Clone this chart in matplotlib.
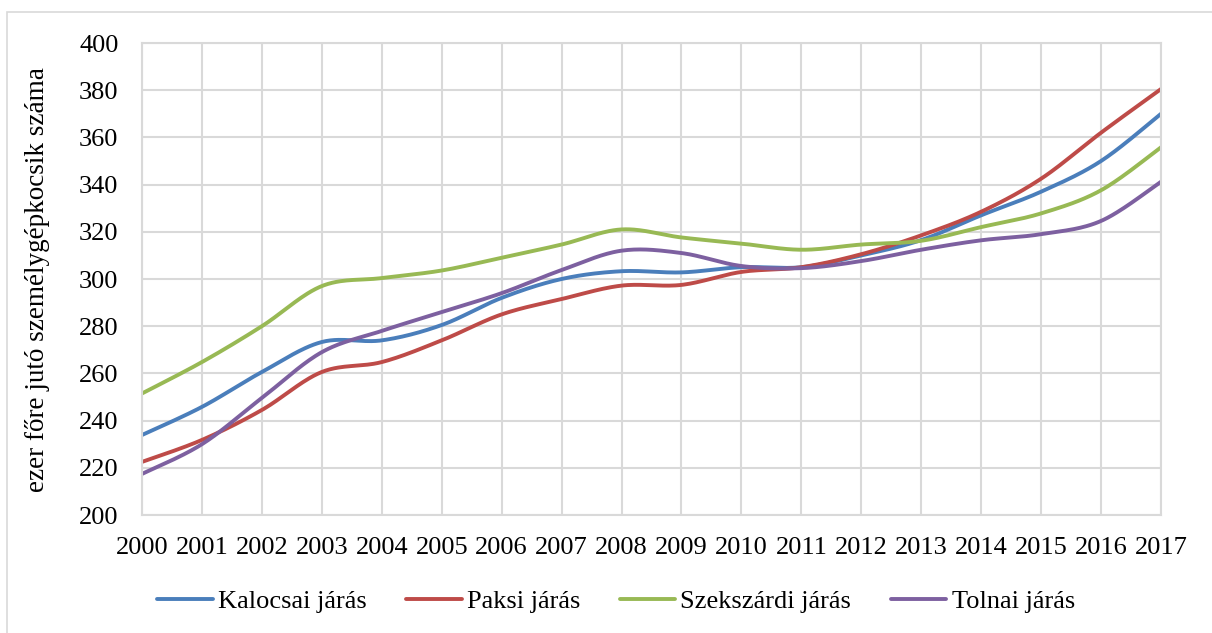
import numpy as np
import matplotlib.pyplot as plt
from matplotlib.patches import Rectangle

# data
years = list(range(2000, 2018))
kalocsai = [233.9, 245.8, 260.6, 273.3, 274.0, 280.5, 292.0, 300.0, 303.3, 302.8,
            305.0, 305.0, 310.0, 316.5, 327.0, 337.0, 350.0, 370.0]
paksi = [222.5, 231.8, 244.5, 260.6, 264.8, 274.0, 285.0, 291.5, 297.2, 297.5,
         303.0, 305.0, 310.5, 318.5, 328.5, 342.5, 362.0, 380.5]
szekszardi = [251.5, 264.8, 280.0, 297.0, 300.4, 303.6, 309.0, 314.6, 321.0, 317.6,
              315.0, 312.4, 314.6, 316.2, 322.0, 327.8, 337.6, 355.8]
tolnai = [217.4, 230.0, 249.6, 269.0, 278.0, 286.0, 294.0, 303.8, 312.0, 311.0,
          305.5, 304.6, 307.6, 312.4, 316.4, 319.0, 324.6, 341.2]

series = [("Kalocsai járás", kalocsai, "#4A7EBB"),
          ("Paksi járás", paksi, "#BE4B48"),
          ("Szekszárdi járás", szekszardi, "#98B954"),
          ("Tolnai járás", tolnai, "#7D60A0")]


def smooth(x, y, n=30):
    # excel-like smoothing: bezier segments with catmull-rom control points
    x = np.asarray(x, float)
    y = np.asarray(y, float)
    px = np.concatenate([[x[0]], x, [x[-1]]])
    py = np.concatenate([[y[0]], y, [y[-1]]])
    xs, ys = [], []
    t = np.linspace(0, 1, n)
    for i in range(1, len(px) - 2):
        p0 = np.array([px[i], py[i]])
        p3 = np.array([px[i + 1], py[i + 1]])
        c1 = p0 + (np.array([px[i + 1], py[i + 1]]) - np.array([px[i - 1], py[i - 1]])) / 6
        c2 = p3 - (np.array([px[i + 2], py[i + 2]]) - np.array([px[i], py[i]])) / 6
        pts = ((1 - t) ** 3)[:, None] * p0 + (3 * (1 - t) ** 2 * t)[:, None] * c1 \
            + (3 * (1 - t) * t ** 2)[:, None] * c2 + (t ** 3)[:, None] * p3
        xs.extend(pts[:, 0])
        ys.extend(pts[:, 1])
    return xs, ys


plt.rcParams['font.family'] = ['Liberation Serif', 'DejaVu Serif']

fig = plt.figure(figsize=(12.12, 6.33), dpi=100)
W, H = 1212, 633
ax = fig.add_axes([142 / W, 1 - 515 / H, (1161 - 142) / W, (515 - 43) / H])

for name, vals, col in series:
    sx, sy = smooth(years, vals)
    ax.plot(sx, sy, color=col, lw=2.8, label=name, solid_capstyle='round')

ax.set_xlim(2000, 2017)
ax.set_ylim(200, 400)
ax.set_xticks(years)
ax.set_yticks(range(200, 401, 20))
ax.tick_params(length=0, labelsize=19, colors='black')
ax.tick_params(axis='y', pad=17)
ax.tick_params(axis='x', pad=16)
ax.grid(True, color='#D9D9D9', lw=1.5)
ax.set_axisbelow(True)
for s in ax.spines.values():
    s.set_color('#D9D9D9')
    s.set_linewidth(1.5)
ax.set_ylabel('ezer főre jutó személygépkocsik száma', fontsize=19.5)
ax.yaxis.set_label_coords(50 / W, 1 - 280 / H, transform=fig.transFigure)

fig.legend(loc='center', bbox_to_anchor=(616 / W, 1 - 601 / H), ncol=4, frameon=False,
           fontsize=19, handlelength=2.1, handletextpad=0.2, columnspacing=1.5)

fig.patches.append(Rectangle((7 / W, -0.01), 1.02, 1 - 12 / H + 0.01, transform=fig.transFigure,
                             fill=False, edgecolor='#D9D9D9', lw=1.2))

fig.savefig('out.png', dpi=100)
